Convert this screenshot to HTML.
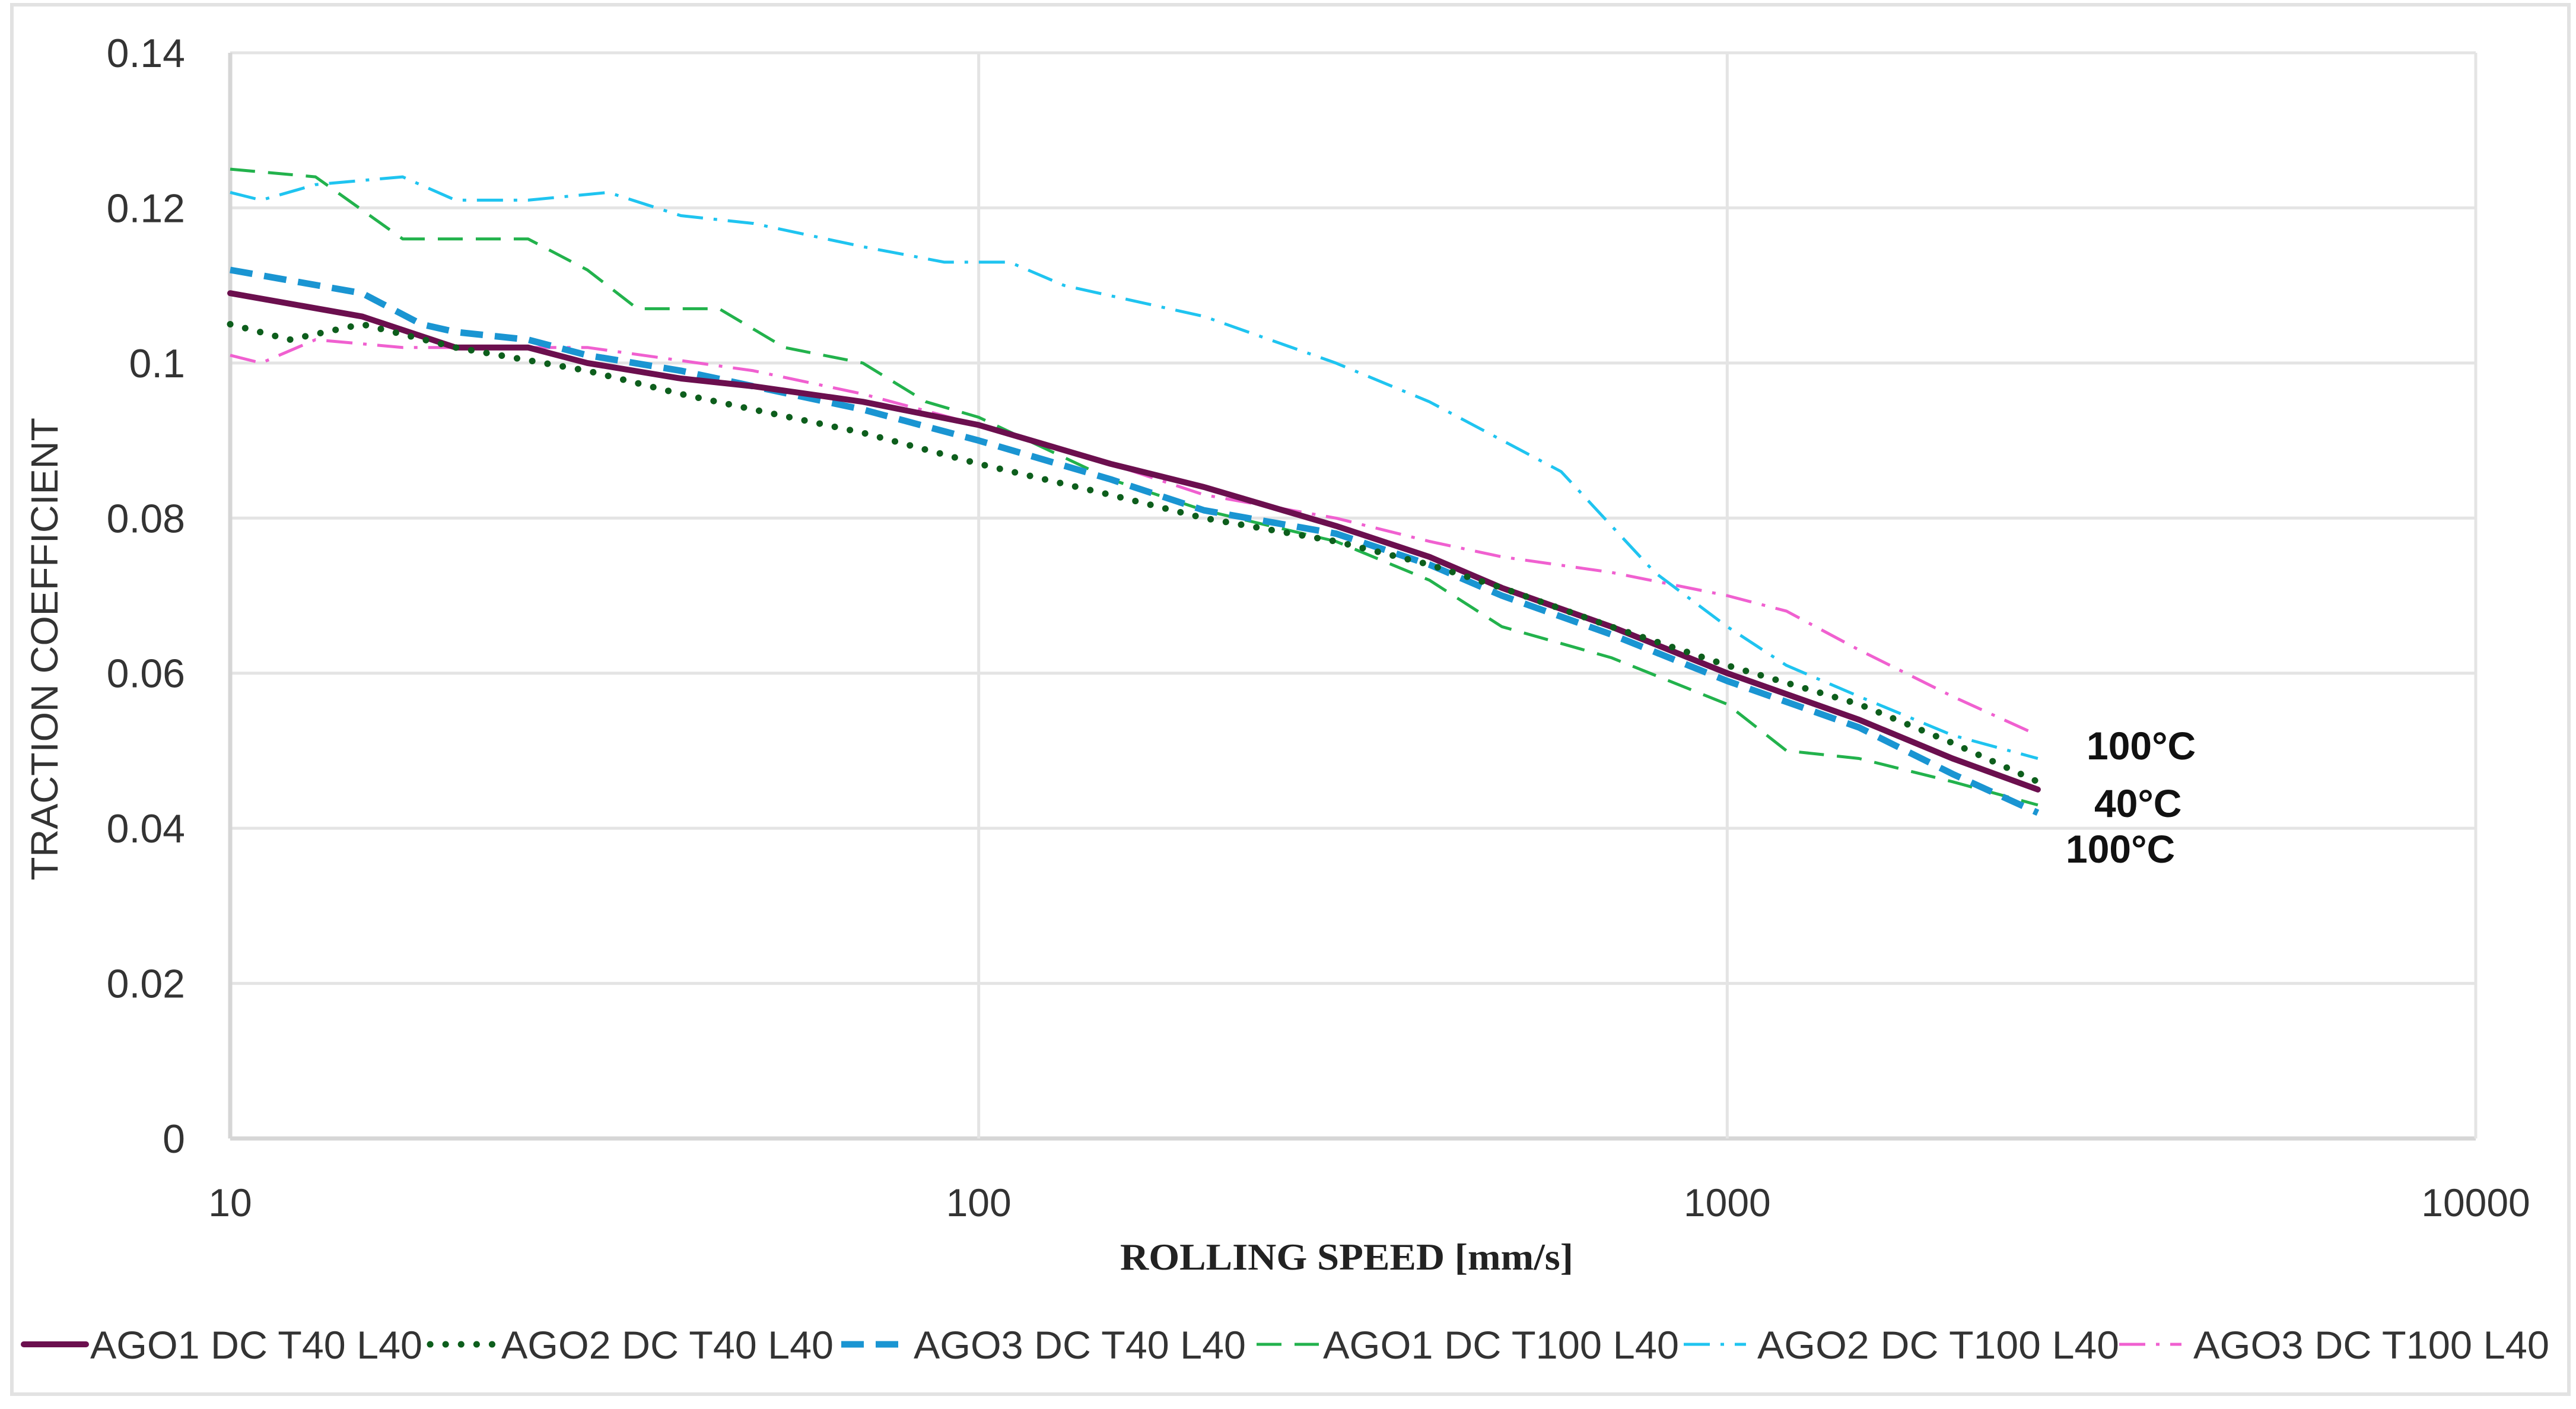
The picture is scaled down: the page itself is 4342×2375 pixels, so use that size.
<!DOCTYPE html>
<html><head><meta charset="utf-8">
<style>
html,body{margin:0;padding:0;background:#fff;}
svg{display:block;}
text{font-family:"Liberation Sans",Arial,sans-serif;}
</style></head>
<body>
<svg id="chart" xmlns="http://www.w3.org/2000/svg" width="4342" height="2375" viewBox="0 0 4342 2375">
<rect x="20" y="8" width="4310" height="2342" fill="#fff" stroke="#e2e2e2" stroke-width="6"/>
<g id="grid"></g>
<g id="series"></g>
<g id="axes"></g>
<text x="97" y="1094" transform="rotate(-90 97 1094)" text-anchor="middle" font-size="64" fill="#333" textLength="780" lengthAdjust="spacingAndGlyphs">TRACTION COEFFICIENT</text>
<text x="2270" y="2140" text-anchor="middle" font-size="64" font-weight="bold" style="font-family:'Liberation Serif',serif" fill="#222" textLength="764" lengthAdjust="spacingAndGlyphs">ROLLING SPEED [mm/s]</text>
<text x="3517" y="1280" font-size="66" font-weight="bold" fill="#111">100°C</text>
<text x="3530" y="1377" font-size="66" font-weight="bold" fill="#111">40°C</text>
<text x="3482" y="1454" font-size="66" font-weight="bold" fill="#111">100°C</text>
<g id="legend"></g>
</svg>
<script>
const xMin = 10, xMax = 10000, yMin = 0, yMax = 0.14;
const yTicks = [0, 0.02, 0.04, 0.06, 0.08, 0.1, 0.12, 0.14];
const yTickLabels = ["0","0.02","0.04","0.06","0.08","0.1","0.12","0.14"];
const xTicks = [10, 100, 1000, 10000];
const xTickLabels = ["10","100","1000","10000"];
const seriesNames = ["AGO1 DC T40 L40","AGO2 DC T40 L40","AGO3 DC T40 L40","AGO1 DC T100 L40","AGO2 DC T100 L40","AGO3 DC T100 L40"];
const ago1T40X = [10,15,20,25,30,40,50,70,100,150,200,300,400,500,700,1000,1500,2000,2600];
const ago1T40Y = [0.109,0.106,0.102,0.102,0.100,0.098,0.097,0.095,0.092,0.087,0.084,0.079,0.075,0.071,0.066,0.060,0.054,0.049,0.045];
const ago2T40X = [10,12,15,20,30,40,50,70,100,150,200,300,400,500,700,1000,1500,2000,2600];
const ago2T40Y = [0.105,0.103,0.105,0.102,0.099,0.096,0.094,0.091,0.087,0.083,0.080,0.077,0.074,0.071,0.066,0.061,0.056,0.051,0.046];
const ago3T40X = [10,15,18,20,25,30,40,50,70,100,150,200,300,400,500,700,1000,1500,2000,2600];
const ago3T40Y = [0.112,0.109,0.105,0.104,0.103,0.101,0.099,0.097,0.094,0.090,0.085,0.081,0.078,0.074,0.070,0.065,0.059,0.053,0.047,0.042];
const ago1T100X = [10,13,17,20,25,30,35,45,55,70,85,100,150,200,300,400,500,700,1000,1200,1500,2000,2600];
const ago1T100Y = [0.125,0.124,0.116,0.116,0.116,0.112,0.107,0.107,0.102,0.100,0.095,0.093,0.085,0.081,0.077,0.072,0.066,0.062,0.056,0.050,0.049,0.046,0.043];
const ago2T100X = [10,11,13,17,20,25,32,40,50,70,90,110,130,200,300,400,600,800,1000,1200,1500,2000,2600];
const ago2T100Y = [0.122,0.121,0.123,0.124,0.121,0.121,0.122,0.119,0.118,0.115,0.113,0.113,0.110,0.106,0.100,0.095,0.086,0.073,0.066,0.061,0.057,0.052,0.049];
const ago3T100X = [10,11,13,17,20,30,50,70,100,150,200,300,400,500,700,1000,1200,1500,2000,2600];
const ago3T100Y = [0.101,0.100,0.103,0.102,0.102,0.102,0.099,0.096,0.092,0.087,0.083,0.080,0.077,0.075,0.073,0.070,0.068,0.063,0.057,0.052];

const L = 388, R = 4173, T = 89, B = 1919;
const NS = "http://www.w3.org/2000/svg";
function xs(v){ return L + (Math.log10(v) - Math.log10(xMin)) / (Math.log10(xMax) - Math.log10(xMin)) * (R - L); }
function ys(v){ return B - (v - yMin) / (yMax - yMin) * (B - T); }
function mk(tag, parent){ const e = document.createElementNS(NS, tag); parent.appendChild(e); return e; }

const grid = document.getElementById('grid');
yTicks.forEach((t, i) => {
  const ln = mk('line', grid);
  
  
  ln.setAttribute('x1', L); ln.setAttribute('x2', R);
  ln.setAttribute('y1', ys(t)); ln.setAttribute('y2', ys(t));
  ln.setAttribute('stroke', i === 0 ? '#d6d6d6' : '#e4e4e4');
  ln.setAttribute('stroke-width', i === 0 ? 7 : 5);
});
xTicks.forEach((t, i) => {
  const ln = mk('line', grid);
  
  
  ln.setAttribute('x1', xs(t)); ln.setAttribute('x2', xs(t));
  ln.setAttribute('y1', T); ln.setAttribute('y2', B);
  ln.setAttribute('stroke', i === 0 ? '#d6d6d6' : '#e4e4e4');
  ln.setAttribute('stroke-width', i === 0 ? 7 : 5);
});
const axes = document.getElementById('axes');
yTicks.forEach((t, i) => {
  const tx = mk('text', axes);
  
  
  tx.setAttribute('x', 312); tx.setAttribute('y', ys(t) + 24);
  tx.setAttribute('text-anchor', 'end'); tx.setAttribute('font-size', '68'); tx.setAttribute('fill', '#333');
  tx.textContent = yTickLabels[i];
});
xTicks.forEach((t, i) => {
  const tx = mk('text', axes);
  
  
  tx.setAttribute('x', xs(t)); tx.setAttribute('y', 2050);
  tx.setAttribute('text-anchor', 'middle'); tx.setAttribute('font-size', '66'); tx.setAttribute('fill', '#333');
  tx.textContent = xTickLabels[i];
});

const styles = [
  {c:'#6b0f4e', w:10, d:'', cap:'round'},
  {c:'#0d5e1c', w:11, d:'0.1 26', cap:'round'},
  {c:'#1a95d2', w:11, d:'38 20', cap:'butt'},
  {c:'#22b24c', w:5, d:'42 22', cap:'butt'},
  {c:'#1fc4f0', w:5, d:'44 18 6 18', cap:'butt'},
  {c:'#f060d0', w:5, d:'44 18 6 18', cap:'butt'}
];
const xsArr = [ago1T40X, ago2T40X, ago3T40X, ago1T100X, ago2T100X, ago3T100X];
const ysArr = [ago1T40Y, ago2T40Y, ago3T40Y, ago1T100Y, ago2T100Y, ago3T100Y];
const keys = ['ago1-t40','ago2-t40','ago3-t40','ago1-t100','ago2-t100','ago3-t100'];
const sg = document.getElementById('series');
const order = [3,4,5,2,0,1];
order.forEach(k => {
  const p = mk('path', sg);
  
  
  const X = xsArr[k], Y = ysArr[k];
  let d = '';
  X.forEach((x, i) => { d += (i ? 'L' : 'M') + xs(x).toFixed(1) + ' ' + ys(Y[i]).toFixed(1) + ' '; });
  p.setAttribute('d', d);
  p.setAttribute('fill', 'none');
  p.setAttribute('stroke', styles[k].c);
  p.setAttribute('stroke-width', styles[k].w);
  p.setAttribute('stroke-linejoin', 'round');
  p.setAttribute('stroke-linecap', styles[k].cap);
  if (styles[k].d) p.setAttribute('stroke-dasharray', styles[k].d);
});

const lg = document.getElementById('legend');
const lineStarts = [40, 725, 1418, 2118, 2838, 3572];
const textStarts = [152, 845, 1540, 2230, 2962, 3697];
const textLens = [560, 560, 560, 600, 610, 600];
seriesNames.forEach((n, k) => {
  const ln = mk('line', lg);
  
  
  ln.setAttribute('x1', lineStarts[k]); ln.setAttribute('x2', lineStarts[k] + 105);
  ln.setAttribute('y1', 2266); ln.setAttribute('y2', 2266);
  ln.setAttribute('stroke', styles[k].c);
  ln.setAttribute('stroke-width', styles[k].w);
  ln.setAttribute('stroke-linecap', styles[k].cap);
  if (styles[k].d) ln.setAttribute('stroke-dasharray', styles[k].d);
  const tx = mk('text', lg);
  
  
  tx.setAttribute('x', textStarts[k]); tx.setAttribute('y', 2290);
  tx.setAttribute('font-size', '66'); tx.setAttribute('fill', '#333');
  tx.setAttribute('textLength', textLens[k]);
  tx.setAttribute('lengthAdjust', 'spacingAndGlyphs');
  tx.textContent = n;
});
</script>
</body></html>
